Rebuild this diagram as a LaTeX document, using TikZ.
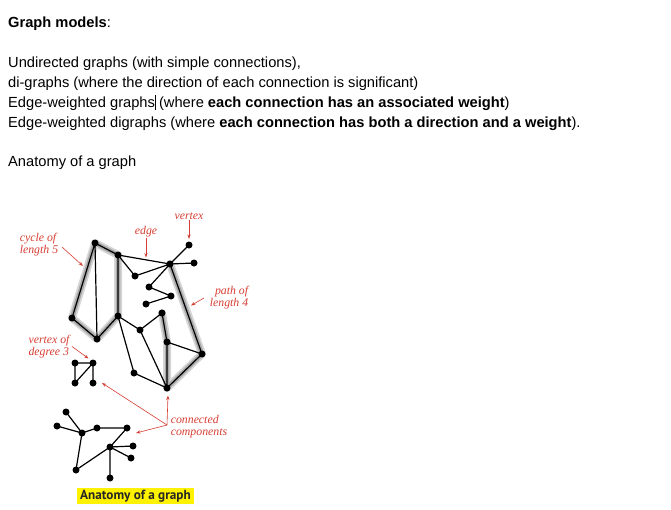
\documentclass[tikz,border=0pt]{standalone}
\usepackage{fontspec}
\setsansfont{Liberation Sans}
\newfontfamily\capfont{PT Sans}
\newfontfamily\lblfont{Liberation Serif}
\usetikzlibrary{arrows.meta}
\definecolor{lblred}{RGB}{214,62,52}
\pgfdeclarelayer{back}
\pgfdeclarelayer{bg}
\pgfsetlayers{back,bg,main}
\begin{document}
\begin{tikzpicture}[x=1pt,y=-1pt,
 v/.style={circle,fill=black,inner sep=0pt,minimum size=7pt},
 ed/.style={line width=1.2pt,black},
 haloa/.style={line width=8pt,black!16,line cap=round,line join=round},
 halob/.style={line width=4.5pt,black!34,line cap=round,line join=round},
 lbl/.style={text=lblred,font=\lblfont\itshape\fontsize{11.8}{12}\selectfont,inner sep=0pt},
 rarr/.style={draw=lblred,line width=0.6pt,-{Stealth[length=4.5pt,width=3.2pt]}},
 hdr/.style={anchor=base west,inner sep=0pt,font=\sffamily\fontsize{14.67}{18}\selectfont},
]
\begin{pgfonlayer}{back}
\fill[white] (0,0) rectangle (671,509);
\end{pgfonlayer}
\useasboundingbox (0,0) rectangle (671,509);

% header text
\node[hdr] (h1) at (8,27) {\textbf{Graph models}:};
\node[hdr] (h2) at (8,67) {Undirected graphs (with simple connections),};
\node[hdr] (h3) at (8,87) {di-graphs (where the direction of each connection is significant)};
\node[hdr] (h4) at (8,107) {Edge-weighted graphs\makebox[0pt][l]{\rule[-3pt]{1.4pt}{15pt}} (where \textbf{each connection has an associated weight})};
\node[hdr] (h5) at (8,127) {Edge-weighted digraphs (where \textbf{each connection has both a direction and a weight}).};
\node[hdr] (h6) at (8,166) {Anatomy of a graph};

% big component
\node[v] (A) at (95,243) {};
\node[v] (B) at (118,255) {};
\node[v] (C) at (170,264) {};
\node[v] (D) at (189,245) {};
\node[v] (E) at (194,263) {};
\node[v] (F) at (135,276) {};
\node[v] (G) at (149,287) {};
\node[v] (H) at (171,296) {};
\node[v] (I) at (146,304) {};
\node[v] (J) at (72,318) {};
\node[v] (K) at (118,316) {};
\node[v] (L) at (162,313) {};
\node[v] (M) at (97,339) {};
\node[v] (N) at (140,330) {};
\node[v] (O) at (167,342) {};
\node[v] (P) at (202,354) {};
\node[v] (Q) at (134,373) {};
\node[v] (R) at (167,388) {};

% small component
\node[v] (s1) at (75,363) {};
\node[v] (s2) at (93,363) {};
\node[v] (s3) at (75,383) {};
\node[v] (s4) at (93,383) {};

% tree component
\node[v] (ta) at (66,412) {};
\node[v] (tb) at (57,426) {};
\node[v] (tc) at (82,433) {};
\node[v] (td) at (97,428) {};
\node[v] (te) at (127,428) {};
\node[v] (tf) at (110,447) {};
\node[v] (tg) at (133,446) {};
\node[v] (th) at (131,458) {};
\node[v] (ti) at (76,470) {};
\node[v] (tj) at (110,478) {};

\begin{pgfonlayer}{bg}
 % halos: cycle of length 5 and path of length 4
 \draw[haloa] (A.center)--(B.center)--(K.center)--(M.center)--(J.center)--cycle;
 \draw[halob] (A.center)--(B.center)--(K.center)--(M.center)--(J.center)--cycle;
 \draw[haloa] (C.center)--(P.center)--(R.center)--(O.center)--(L.center);
 \draw[halob] (C.center)--(P.center)--(R.center)--(O.center)--(L.center);
 % edges
 \draw[ed] (A.center)--(B.center) (A.center)--(J.center) (J.center)--(M.center)
   (M.center)--(K.center) (K.center)--(B.center) (A.center)--(M.center)
   (B.center)--(C.center) (B.center)--(F.center) (F.center)--(C.center)
   (C.center)--(D.center) (C.center)--(E.center) (C.center)--(G.center)
   (G.center)--(H.center) (H.center)--(I.center) (C.center)--(P.center)
   (P.center)--(R.center) (R.center)--(O.center) (O.center)--(L.center)
   (O.center)--(P.center) (L.center)--(N.center) (N.center)--(K.center)
   (K.center)--(Q.center) (Q.center)--(R.center) (N.center)--(R.center);
 \draw[ed] (s1.center)--(s2.center) (s1.center)--(s3.center)
   (s2.center)--(s3.center) (s2.center)--(s4.center);
 \draw[ed] (ta.center)--(tc.center) (tb.center)--(tc.center) (tc.center)--(td.center)
   (td.center)--(te.center) (te.center)--(tf.center) (tc.center)--(ti.center)
   (ti.center)--(tf.center) (tf.center)--(tg.center) (tf.center)--(th.center)
   (tf.center)--(tj.center);
\end{pgfonlayer}

% labels
\node[lbl] (lvertex) at (189,216) {vertex};
\node[lbl] (ledge) at (146,232) {edge};
\node[lbl,align=left] (lcycle) at (39,244.5) {cycle of\\length 5};
\node[lbl,align=right] (lpath) at (229,297.5) {path of\\length 4};
\node[lbl,align=left] (ldeg) at (49,346.5) {vertex of\\degree 3};
\node[lbl,align=left] (lconn) at (199,427) {connected\\components};

\coordinate (tD) at (189,239);
\coordinate (eBC) at (146,257.5);
\coordinate (tcyc) at (83,266);
\coordinate (spath) at (204,298);
\coordinate (tpath) at (191,305.5);
\coordinate (sdeg) at (72,346.5);
\coordinate (tdeg) at (88.5,358.5);
\coordinate (cj) at (167,425);
\coordinate (tR) at (168,395.5);
\coordinate (tsmall) at (102,383);
\coordinate (ttree) at (136,433);
\coordinate (scyc) at (62,247);

\draw[rarr] (lvertex) -- (tD);
\draw[rarr] (ledge) -- (eBC);
\draw[rarr] (scyc) -- (tcyc);
\draw[rarr] (spath) -- (tpath);
\draw[rarr] (sdeg) -- (tdeg);
\draw[rarr] (cj) -- (tR);
\draw[rarr] (cj) -- (tsmall);
\draw[rarr] (cj) -- (ttree);

% caption
\node[fill=yellow,inner xsep=3pt,inner ysep=0pt,minimum height=16pt,text=black!85,
  font=\capfont\bfseries\fontsize{13.2}{14}\selectfont] (cap) at (135.5,496) {Anatomy of a graph};
\end{tikzpicture}
\end{document}
